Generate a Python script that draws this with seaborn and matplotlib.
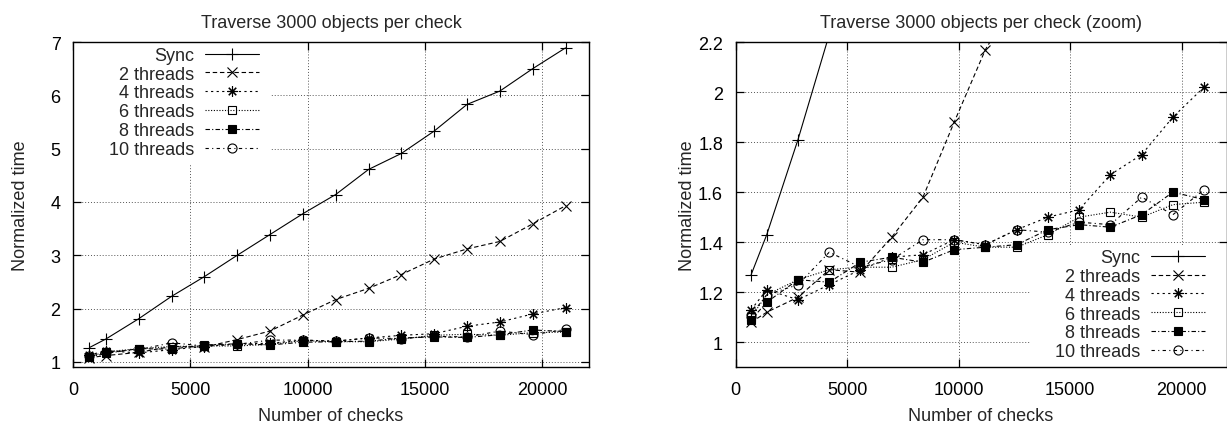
import numpy as np
import pandas as pd
import matplotlib
matplotlib.use("Agg")
import matplotlib.pyplot as plt
import seaborn as sns
from matplotlib.patches import Rectangle
from matplotlib.ticker import FuncFormatter

# ---- data -------------------------------------------------------------
checks = [700, 1400, 2800, 4200, 5600, 7000, 8400, 9800, 11200, 12600,
          14000, 15400, 16800, 18200, 19600, 21000]
sync = [1.27, 1.43, 1.81, 2.23, 2.60, 3.00, 3.39, 3.78, 4.14, 4.61,
        4.91, 5.33, 5.83, 6.08, 6.50, 6.89]
threads2 = [1.08, 1.12, 1.18, 1.29, 1.28, 1.42, 1.58, 1.88, 2.17, 2.38,
            2.64, 2.93, 3.12, 3.26, 3.59, 3.93]
threads4 = [1.13, 1.21, 1.17, 1.23, 1.29, 1.34, 1.35, 1.41, 1.39, 1.45,
            1.50, 1.53, 1.67, 1.75, 1.90, 2.02]
threads6 = [1.10, 1.19, 1.25, 1.29, 1.30, 1.30, 1.33, 1.40, 1.38, 1.38,
            1.43, 1.50, 1.52, 1.50, 1.55, 1.56]
threads8 = [1.09, 1.16, 1.25, 1.24, 1.32, 1.34, 1.32, 1.37, 1.38, 1.39,
            1.45, 1.47, 1.46, 1.51, 1.60, 1.57]
threads10 = [1.11, 1.19, 1.23, 1.36, 1.30, 1.33, 1.41, 1.41, 1.39, 1.45,
             1.44, 1.48, 1.47, 1.58, 1.51, 1.61]

series_names = ["Sync", "2 threads", "4 threads", "6 threads", "8 threads", "10 threads"]
series_values = [sync, threads2, threads4, threads6, threads8, threads10]

titles = ["Traverse 3000 objects per check", "Traverse 3000 objects per check (zoom)"]
x_label = "Number of checks"
y_label = "Normalized time"
x_ticks = [0, 5000, 10000, 15000, 20000]
y_ticks_left = [1, 2, 3, 4, 5, 6, 7]
y_ticks_right = [1.0, 1.2, 1.4, 1.6, 1.8, 2.0, 2.2]

frames = []
for name, vals in zip(series_names, series_values):
    frames.append(pd.DataFrame({"checks": checks, "time": vals, "series": name}))
df = pd.concat(frames, ignore_index=True)

# ---- style ------------------------------------------------------------
sns.set_theme(style="ticks")
plt.rcParams["font.family"] = ["Liberation Sans", "DejaVu Sans"]
plt.rcParams["font.size"] = 13

styles = {
    "Sync":       dict(marker="+", ls="-", mfc="black", ms=8),
    "2 threads":  dict(marker="x", ls=(0, (4, 2.5)), mfc="black", ms=6.5),
    "4 threads":  dict(marker=(8, 2, 0), ls=(0, (2, 3)), mfc="black", ms=7.5),
    "6 threads":  dict(marker="s", ls=(0, (1, 1.5)), mfc="none", ms=6),
    "8 threads":  dict(marker="s", ls=(0, (4, 2, 1, 2)), mfc="black", ms=6),
    "10 threads": dict(marker="o", ls=(0, (3, 3, 1, 3)), mfc="none", ms=6.5),
}

fig = plt.figure(figsize=(12.27, 4.27), dpi=100)
bottom = (427 - 368.3) / 427
height = 325.3 / 427
ax_l = fig.add_axes([73 / 1227, bottom, 516 / 1227, height])
ax_r = fig.add_axes([735.5 / 1227, bottom, 491 / 1227, height])

fmt = FuncFormatter(lambda v, p: "%g" % round(v, 3))

for ax, title, yl, yt in [(ax_l, titles[0], (0.9, 7.0), y_ticks_left),
                          (ax_r, titles[1], (0.9, 2.2), y_ticks_right)]:
    handles = []
    for name in series_names:
        st = styles[name]
        sub = df[df["series"] == name]
        sns.lineplot(data=sub, x="checks", y="time", ax=ax, color="black",
                     linewidth=0.8, marker=st["marker"], linestyle=st["ls"],
                     markersize=st["ms"], markeredgecolor="black",
                     markerfacecolor=st["mfc"], markeredgewidth=0.8,
                     estimator=None, sort=False, legend=False, zorder=3)
        line = ax.lines[-1]
        line.set_label(name)
        line.set_markerfacecolor(st["mfc"])
        line.set_markeredgewidth(0.8)
        handles.append(line)

    ax.set_xlim(0, 22000)
    ax.set_ylim(*yl)
    ax.set_xticks(x_ticks)
    ax.set_yticks(yt)
    ax.yaxis.set_major_formatter(fmt)
    ax.set_axisbelow(True)
    ax.grid(True, color="#555555", linestyle=(0, (1, 2)), linewidth=0.7)
    ax.tick_params(axis="both", direction="in", top=True, right=True,
                   length=6, width=0.9, labelsize=13, colors="black")
    ax.tick_params(axis="x", pad=10)
    ax.tick_params(axis="y", pad=9)
    for sp in ax.spines.values():
        sp.set_visible(True)
        sp.set_linewidth(1.0)
        sp.set_color("black")
    ax.set_title(title, fontsize=13, pad=11)
    ax.set_xlabel(x_label, fontsize=13, labelpad=6)
    ax.set_ylabel(y_label, fontsize=13)

    common = dict(markerfirst=False, frameon=False, handlelength=3.0,
                  handletextpad=0.6, labelspacing=0.1, borderpad=0,
                  borderaxespad=0, fontsize=13, numpoints=1)
    if ax is ax_l:
        ax.add_patch(Rectangle((0, 0.625), 0.382, 0.375, transform=ax.transAxes,
                               facecolor="white", edgecolor="none", zorder=1.5))
        leg = ax.legend(handles=handles, loc="upper right",
                        bbox_to_anchor=(0.36, 0.985), **common)
        ax.yaxis.set_label_coords(-0.0862, 0.5)
    else:
        ax.add_patch(Rectangle((0.6, 0.0), 0.4, 0.372, transform=ax.transAxes,
                               facecolor="white", edgecolor="none", zorder=1.5))
        leg = ax.legend(handles=handles, loc="lower right",
                        bbox_to_anchor=(0.956, 0.022), **common)
        ax.yaxis.set_label_coords(-0.080, 0.5)
    leg.set_zorder(5)

fig.savefig("out.png", dpi=100)
